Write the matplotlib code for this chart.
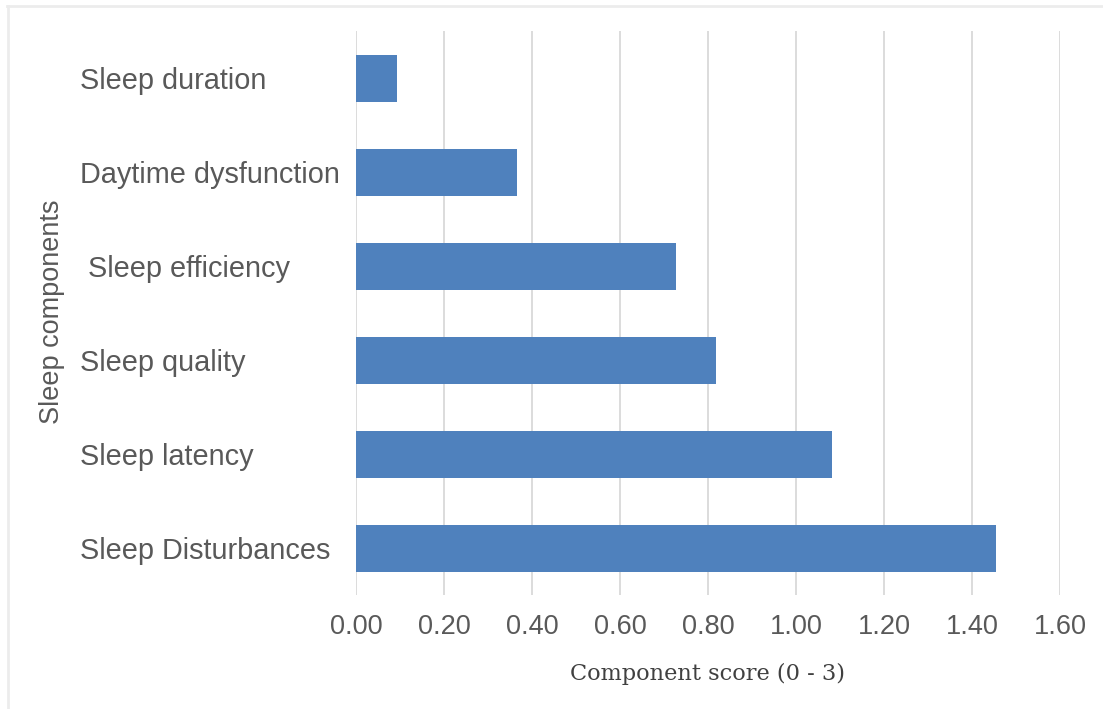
import matplotlib
matplotlib.use("Agg")
import matplotlib.pyplot as plt
from matplotlib.lines import Line2D

# PSQI component means, listed top to bottom
components = ["Sleep duration", "Daytime dysfunction", " Sleep efficiency",
              "Sleep quality", "Sleep latency", "Sleep Disturbances"]
scores = [0.093, 0.366, 0.727, 0.818, 1.082, 1.455]
xticks = [0.0, 0.2, 0.4, 0.6, 0.8, 1.0, 1.2, 1.4, 1.6]
xtick_labels = ["0.00", "0.20", "0.40", "0.60", "0.80", "1.00", "1.20", "1.40", "1.60"]

W, H = 1103, 709
fig = plt.figure(figsize=(W / 100, H / 100), dpi=100)
fig.patch.set_facecolor("white")

left, right, top, bottom = 356, 1060, 31, 595
ax = fig.add_axes([left / W, 1 - bottom / H, (right - left) / W, (bottom - top) / H])

ypos = list(range(len(components)))[::-1]
ax.barh(ypos, scores, height=0.5, color="#4f81bd", zorder=3)

ax.set_xlim(0, 1.6)
ax.set_ylim(-0.5, len(components) - 0.5)
ax.set_xticks(xticks)
ax.set_xticklabels(xtick_labels)
ax.set_yticks(ypos)
ax.set_yticklabels(components)

for s in ax.spines.values():
    s.set_visible(False)
ax.grid(axis="x", color="#d9d9d9", linewidth=1.3, zorder=0)
ax.tick_params(axis="both", length=0)
ax.tick_params(axis="x", labelsize=19.5, labelcolor="#595959", pad=14)
ax.tick_params(axis="y", labelsize=20.8, labelcolor="#595959", pad=(left - 80) * 0.72)
for lbl in ax.get_yticklabels():
    lbl.set_horizontalalignment("left")
for lbl in ax.get_xticklabels() + ax.get_yticklabels():
    lbl.set_fontfamily("Liberation Sans")

fig.text(708 / W, 1 - 674 / H, "Component score (0 - 3)", fontsize=16.2,
         color="#404040", fontfamily="DejaVu Serif", ha="center", va="center")
fig.text(52 / W, 1 - 312 / H, "Sleep components", rotation=90, fontsize=19.5,
         color="#595959", fontfamily="Liberation Sans", ha="center", va="center")

# thin frame along top and left edges
fig.add_artist(Line2D([7 / W, 1], [1 - 5.5 / H, 1 - 5.5 / H], color="#ececec", lw=2,
                      transform=fig.transFigure))
fig.add_artist(Line2D([8 / W, 8 / W], [0, 1 - 5.5 / H], color="#ececec", lw=2,
                      transform=fig.transFigure))

fig.savefig("out.png", dpi=100)
